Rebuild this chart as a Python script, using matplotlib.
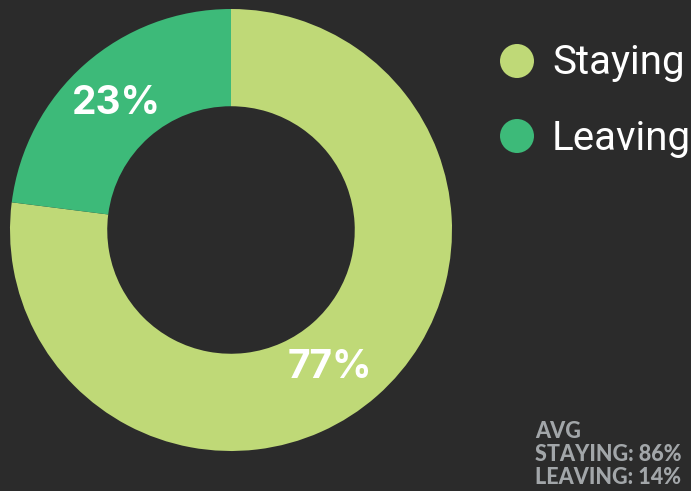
import matplotlib
matplotlib.use("Agg")
import matplotlib.pyplot as plt

categories = ["Staying", "Leaving"]
values = [77, 23]
labels = ["77%", "23%"]
colors = ["#bfd977", "#3dba79"]
avg_lines = ["AVG", "STAYING: 86%", "LEAVING: 14%"]

W, H = 691, 491
bg = "#2b2b2b"
fig = plt.figure(figsize=(W / 100, H / 100), dpi=100, facecolor=bg)

cx, cy, R = 231, 230, 221
ax = fig.add_axes([(cx - R) / W, (H - cy - R) / H, 2 * R / W, 2 * R / H])
ax.set_facecolor(bg)
wedges, _ = ax.pie(values, colors=colors, startangle=90, counterclock=False,
                   radius=1.0, wedgeprops=dict(width=0.44, linewidth=0))
ax.set_xlim(-1, 1)
ax.set_ylim(-1, 1)
ax.set_aspect("equal")
ax.axis("off")

def fx(x):
    return x / W

def fy(y):
    return 1 - y / H

# Percentage labels
fig.text(fx(330), fy(368), labels[0], color="white", fontsize=28, fontweight="bold",
         family="Inter", ha="center", va="center")
fig.text(fx(116), fy(104), labels[1], color="white", fontsize=28, fontweight="bold",
         family="Inter", ha="center", va="center")

# Legend
leg_y = [61, 136]
for i, (cat, col) in enumerate(zip(categories, colors)):
    fig.patches.append(matplotlib.patches.Ellipse((fx(517), fy(leg_y[i])), 34 / W, 34 / H,
                                                  transform=fig.transFigure, facecolor=col,
                                                  edgecolor="none"))
    fig.text(fx(552), fy(leg_y[i] + 2), cat, color="white", fontsize=29,
             family="Roboto", ha="left", va="center")

# AVG text
for i, line in enumerate(avg_lines):
    fig.text(fx(535), fy(431 + 23.5 * i), line, color="#a2a6a9", fontsize=15.5,
             fontweight="black", family="Lato", ha="left", va="center")

fig.savefig("out.png", dpi=100, facecolor=bg)
